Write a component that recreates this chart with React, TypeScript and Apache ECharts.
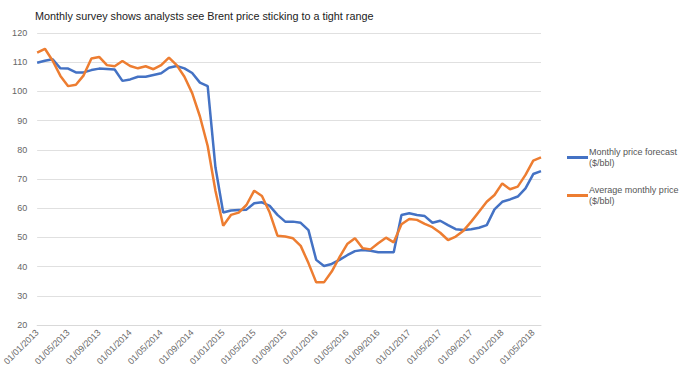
import React, { useEffect, useRef } from "react";
import * as echarts from "echarts";

const titleText = "Monthly survey shows analysts see Brent price sticking to a tight range";

const categories: string[] = [
  "01/01/2013", "01/02/2013", "01/03/2013", "01/04/2013", "01/05/2013", "01/06/2013",
  "01/07/2013", "01/08/2013", "01/09/2013", "01/10/2013", "01/11/2013", "01/12/2013",
  "01/01/2014", "01/02/2014", "01/03/2014", "01/04/2014", "01/05/2014", "01/06/2014",
  "01/07/2014", "01/08/2014", "01/09/2014", "01/10/2014", "01/11/2014", "01/12/2014",
  "01/01/2015", "01/02/2015", "01/03/2015", "01/04/2015", "01/05/2015", "01/06/2015",
  "01/07/2015", "01/08/2015", "01/09/2015", "01/10/2015", "01/11/2015", "01/12/2015",
  "01/01/2016", "01/02/2016", "01/03/2016", "01/04/2016", "01/05/2016", "01/06/2016",
  "01/07/2016", "01/08/2016", "01/09/2016", "01/10/2016", "01/11/2016", "01/12/2016",
  "01/01/2017", "01/02/2017", "01/03/2017", "01/04/2017", "01/05/2017", "01/06/2017",
  "01/07/2017", "01/08/2017", "01/09/2017", "01/10/2017", "01/11/2017", "01/12/2017",
  "01/01/2018", "01/02/2018", "01/03/2018", "01/04/2018", "01/05/2018", "01/06/2018",
];

const forecastName = "Monthly price forecast ($/bbl)";
const forecast: number[] = [
  109.8, 110.5, 111.0, 107.9, 107.8, 106.5, 106.5, 107.3, 107.8, 107.7, 107.5, 103.6,
  104.1, 105.0, 105.0, 105.6, 106.2, 108.1, 108.7, 107.9, 106.3, 103.0, 101.8, 74.0,
  58.5, 59.2, 59.4, 59.5, 61.7, 62.0, 60.8, 57.7, 55.4, 55.4, 55.0, 52.5,
  42.3, 40.2, 40.9, 42.3, 43.9, 45.3, 45.7, 45.4, 44.9, 44.9, 44.9, 57.7,
  58.3, 57.7, 57.3, 55.0, 55.7, 54.2, 52.8, 52.5, 52.8, 53.3, 54.2, 59.6,
  62.2, 63.0, 64.0, 66.8, 71.7, 72.7,
];

const averageName = "Average monthly price ($/bbl)";
const average: number[] = [
  113.3, 114.6, 110.5, 105.3, 101.8, 102.3, 105.5, 111.3, 111.8, 109.0, 108.6, 110.4,
  108.7, 107.9, 108.6, 107.6, 109.0, 111.6, 109.0, 105.0, 99.4, 91.4, 81.3, 66.0,
  54.0, 57.7, 58.5, 61.1, 66.0, 64.2, 58.5, 50.6, 50.3, 49.7, 47.1, 41.2,
  34.6, 34.6, 38.3, 43.2, 47.7, 49.7, 46.3, 45.9, 48.0, 49.9, 48.3, 54.5,
  56.3, 56.0, 54.6, 53.5, 51.6, 49.1, 50.3, 52.3, 55.4, 58.8, 62.2, 64.5,
  68.5, 66.5, 67.4, 71.4, 76.3, 77.4,
];

const yMin = 20;
const yMax = 120;
const yStep = 10;

const FONT = "'Liberation Sans', Arial, sans-serif";

export default function App() {
  const ref = useRef<HTMLDivElement>(null);

  useEffect(() => {
    document.body.style.margin = "0";
    if (!ref.current) return;
    const chart = echarts.init(ref.current, undefined, { renderer: "svg" });
    chart.setOption({
      animation: false,
      backgroundColor: "#ffffff",
      textStyle: { fontFamily: FONT },
      title: {
        text: titleText,
        left: 30,
        top: 5,
        textStyle: { fontFamily: FONT, fontSize: 10.8, fontWeight: "normal", color: "#222222" },
      },
      legend: {
        orient: "vertical",
        left: 562,
        top: 136,
        itemWidth: 21,
        itemHeight: 3,
        itemGap: 5,
        icon: "rect",
        formatter: (name: string) => name.replace(" ($/bbl)", "\n($/bbl)"),
        textStyle: {
          fontFamily: FONT,
          fontSize: 9,
          color: "#555555",
          lineHeight: 11,
          padding: [11, 0, 0, -4],
        },
        data: [forecastName, averageName],
      },
      grid: { left: 37, right: 139, top: 33, bottom: 53, containLabel: false },
      xAxis: {
        type: "category",
        data: categories,
        boundaryGap: false,
        axisLine: { show: true, lineStyle: { color: "#d9d9d9" } },
        axisTick: { show: false },
        axisLabel: {
          interval: 3,
          rotate: 45,
          margin: 6,
          fontFamily: FONT,
          fontSize: 9,
          color: "#6a6a6a",
        },
        splitLine: { show: false },
      },
      yAxis: {
        type: "value",
        min: yMin,
        max: yMax,
        interval: yStep,
        axisLine: { show: false },
        axisTick: { show: false },
        axisLabel: { fontFamily: FONT, fontSize: 9, color: "#666666", margin: 10 },
        splitLine: { lineStyle: { color: "#e0e0e0", width: 1 } },
      },
      series: [
        {
          name: forecastName,
          type: "line",
          data: forecast,
          showSymbol: false,
          symbol: "none",
          color: "#4472C4",
          lineStyle: { color: "#4472C4", width: 2.5 },
        },
        {
          name: averageName,
          type: "line",
          data: average,
          showSymbol: false,
          symbol: "none",
          color: "#ED7D31",
          lineStyle: { color: "#ED7D31", width: 2.5 },
        },
      ],
    });
    return () => chart.dispose();
  }, []);

  return (
    <div
      ref={ref}
      style={{ position: "absolute", left: 0, top: 0, width: 680, height: 378 }}
    />
  );
}
